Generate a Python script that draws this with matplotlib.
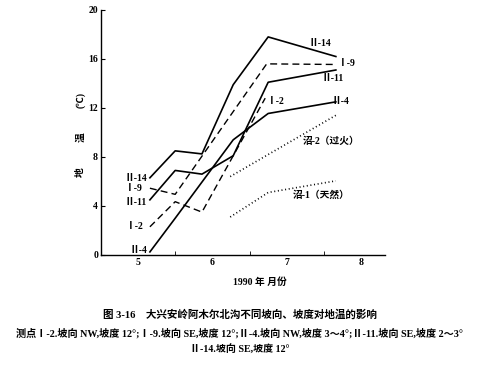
import matplotlib
matplotlib.use("Agg")
import matplotlib.pyplot as plt

plt.rcParams['font.family'] = ['Liberation Serif', 'Noto Sans CJK SC', 'DejaVu Sans']

# x is months since 1 May 1990 (tick boundaries at Jun 1, Jul 1, Aug 1)
x6 = [0.66, 1.0, 1.36, 1.78, 2.25, 3.16]
ii14 = [6.3, 8.5, 8.25, 13.9, 17.8, 16.2]
ii11 = [4.5, 6.9, 6.6, 8.1, 14.1, 15.1]
x_ii4 = [0.66, 1.0, 1.78, 2.25, 3.16]
ii4 = [0.25, 3.0, 9.4, 11.55, 12.5]
x_i9 = [0.66, 1.0, 2.23, 3.16]
i9 = [5.45, 4.95, 15.6, 15.55]
x_i2 = [0.66, 1.0, 1.36, 2.21]
i2 = [2.3, 4.35, 3.5, 12.8]
x_marsh = [1.74, 2.25, 3.16]
marsh2 = [6.4, 8.2, 11.4]
marsh1 = [3.1, 5.1, 6.05]

month_pos = [0.5, 1.5, 2.5, 3.5]
month_labels = ['5', '6', '7', '8']
y_ticks = [0, 4, 8, 12, 16, 20]

fig = plt.figure(figsize=(4.8, 3.69), dpi=100)
ax = fig.add_axes([0.210, 0.309, 0.592, 0.664])

lw = 1.2
ax.plot(x6, ii14, color='black', lw=lw)
ax.plot(x6, ii11, color='black', lw=lw)
ax.plot(x_ii4, ii4, color='black', lw=lw)
ax.plot(x_i9, i9, color='black', lw=1.0, dashes=(5, 3))
ax.plot(x_i2, i2, color='black', lw=1.0, dashes=(5, 3))
ax.plot(x_marsh, marsh2, color='black', lw=1.2, linestyle=(0, (0.6, 1.6)))
ax.plot(x_marsh, marsh1, color='black', lw=1.2, linestyle=(0, (0.6, 1.6)))

fs = 7
kw = dict(fontsize=fs, fontweight='bold', va='center')
# left labels
ax.text(0.62, 6.25, 'Ⅱ-14', ha='right', **kw)
ax.text(0.56, 5.45, 'Ⅰ-9', ha='right', **kw)
ax.text(0.62, 4.25, 'Ⅱ-11', ha='right', **kw)
ax.text(0.57, 2.3, 'Ⅰ-2', ha='right', **kw)
ax.text(0.62, 0.4, 'Ⅱ-4', ha='right', **kw)
# right labels
ax.text(2.79, 17.3, 'Ⅱ-14', ha='left', **kw)
ax.text(3.19, 15.65, 'Ⅰ-9', ha='left', **kw)
ax.text(2.97, 14.4, 'Ⅱ-11', ha='left', **kw)
ax.text(2.23, 12.5, 'Ⅰ-2', ha='left', **kw)
ax.text(3.1, 12.5, 'Ⅱ-4', ha='left', **kw)
ax.text(2.72, 9.25, '沼-2（过火）', ha='left', **kw)
ax.text(2.58, 4.9, '沼-1（天然）', ha='left', **kw)

ax.set_xlim(0, 3.82)
ax.set_ylim(0, 20)
ax.spines['top'].set_visible(False)
ax.spines['right'].set_visible(False)
ax.spines['left'].set_linewidth(1.0)
ax.spines['bottom'].set_linewidth(1.0)

ax.set_xticks(month_pos, month_labels)
ax.tick_params(axis='x', which='major', length=0, pad=2, labelsize=7)
ax.set_xticks([1, 2, 3], minor=True)
ax.tick_params(axis='x', which='minor', direction='in', length=3)
ax.set_yticks(y_ticks, [str(v) for v in y_ticks])
ax.tick_params(axis='y', direction='in', length=3, pad=2, labelsize=7)
for lab in ax.get_xticklabels() + ax.get_yticklabels():
    lab.set_fontweight('bold')

# y label characters
fig.text(0.168, 1 - 172 / 369, '地', rotation=90, fontsize=7, fontweight='bold', ha='center', va='center')
fig.text(0.168, 1 - 137 / 369, '温', rotation=90, fontsize=7, fontweight='bold', ha='center', va='center')
fig.text(0.168, 1 - 100 / 369, '(℃)', rotation=90, fontsize=7, fontweight='bold', ha='center', va='center')

fig.text(260 / 480, 1 - 282 / 369, '1990 年 月份', fontsize=7, fontweight='bold', ha='center', va='center')

fig.text(0.5, 1 - 315 / 369, '图 3-16　大兴安岭阿木尔北沟不同坡向、坡度对地温的影响',
         fontsize=7.6, fontweight='bold', ha='center', va='center')
fig.text(0.5, 1 - 333 / 369,
         '测点Ⅰ-2.坡向 NW,坡度 12°;Ⅰ-9.坡向 SE,坡度 12°;Ⅱ-4.坡向 NW,坡度 3～4°;Ⅱ-11.坡向 SE,坡度 2～3°',
         fontsize=7.3, fontweight='bold', ha='center', va='center')
fig.text(0.5, 1 - 350 / 369, 'Ⅱ-14.坡向 SE,坡度 12°',
         fontsize=7.2, fontweight='bold', ha='center', va='center')

fig.savefig('out.png', dpi=100)
